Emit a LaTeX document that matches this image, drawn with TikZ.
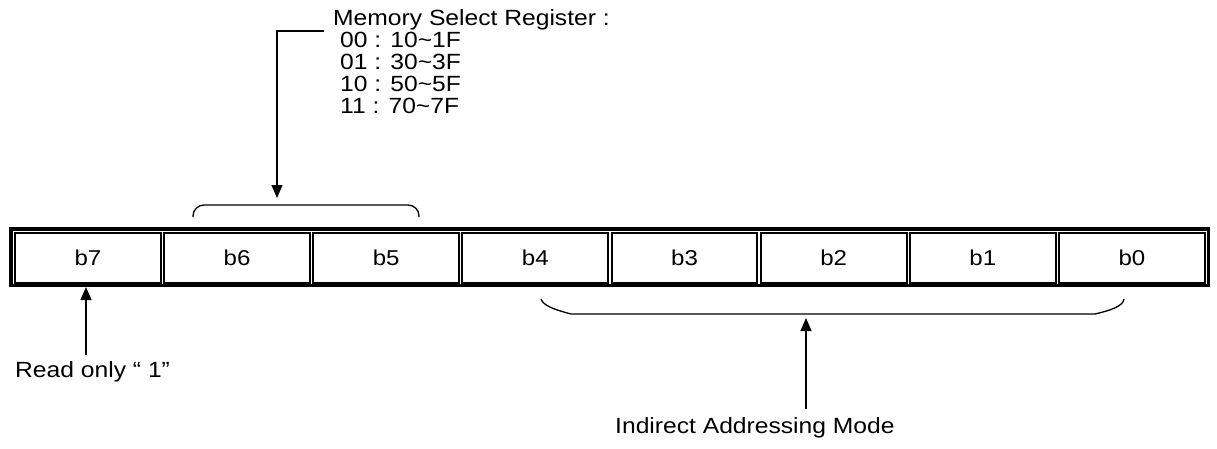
\documentclass[tikz,border=0pt]{standalone}
\usepackage{fontspec}
\setmainfont{Liberation Sans}[FakeStretch=1.12]
\usetikzlibrary{arrows.meta}
\tikzset{
  lbl/.style={inner sep=0pt, anchor=base west, font=\fontsize{22}{26}\selectfont},
  celltxt/.style={inner sep=0pt, font=\fontsize{21.5}{26}\selectfont},
  cellbox/.style={draw=black, line width=2pt},
  conn/.style={line width=1.3pt},
  arr/.style={conn, -{Triangle[width=11pt,length=13pt]}},
}
\begin{document}
\begin{tikzpicture}[x=1pt,y=-1pt]
\useasboundingbox[fill=white] (0,0) rectangle (1217,448);
% outer frame
\draw[line width=3.3pt] (11,229) rectangle (1208.3,285.7);
% cells
\foreach \i/\t in {0/b7,1/b6,2/b5,3/b4,4/b3,5/b2,6/b1,7/b0}{
  \pgfmathsetmacro{\xl}{15+149.15*\i}
  \pgfmathsetmacro{\xr}{\xl+145.8}
  \draw[cellbox] (\xl,232.7) rectangle (\xr,282.7);
  \node[celltxt] (\t) at ({(\xl+\xr)/2},257.7) {\t};
}
% top brace over b6,b5
\coordinate (tbl) at (193,217);
\coordinate (tbr) at (419,217);
\coordinate (tbm) at (306,205);
\draw[conn, rounded corners=11pt] (tbl) |- (tbm) -| (tbr);
% memory select register label
\node[lbl] (msr) at (333,25) {Memory Select Register :};
\node[lbl] (m00) at (340,47.5) {00 : 10\textasciitilde 1F};
\node[lbl] (m01) at (340,69.5) {01 : 30\textasciitilde 3F};
\node[lbl] (m10) at (340,91.5) {10 : 50\textasciitilde 5F};
\node[lbl] (m11) at (340,113.5) {11 : 70\textasciitilde 7F};
\coordinate (hookr) at (324,31);
\coordinate (hookl) at (277,31);
\coordinate (toptip) at (277,198);
\draw[arr] (hookr) -- (hookl) -- (toptip);
% bottom brace under b4..b0
\coordinate (bbl) at (541,299);
\coordinate (bbr) at (1124,299);
\draw[conn] (bbl) .. controls (543,305) and (552,309) .. (571,314) -- (1095,314)
  .. controls (1112,310) and (1123,306) .. (bbr);
% arrows from labels
\coordinate (ro) at (86,355);
\coordinate (rotip) at (86,287);
\draw[arr] (ro) -- (rotip);
\node[lbl] (rol) at (15,377) {Read only “ 1”};
\coordinate (ia) at (806,409);
\coordinate (iatip) at (806,318);
\draw[arr] (ia) -- (iatip);
\node[lbl] (ial) at (615,433) {Indirect Addressing Mode};
\end{tikzpicture}
\end{document}
